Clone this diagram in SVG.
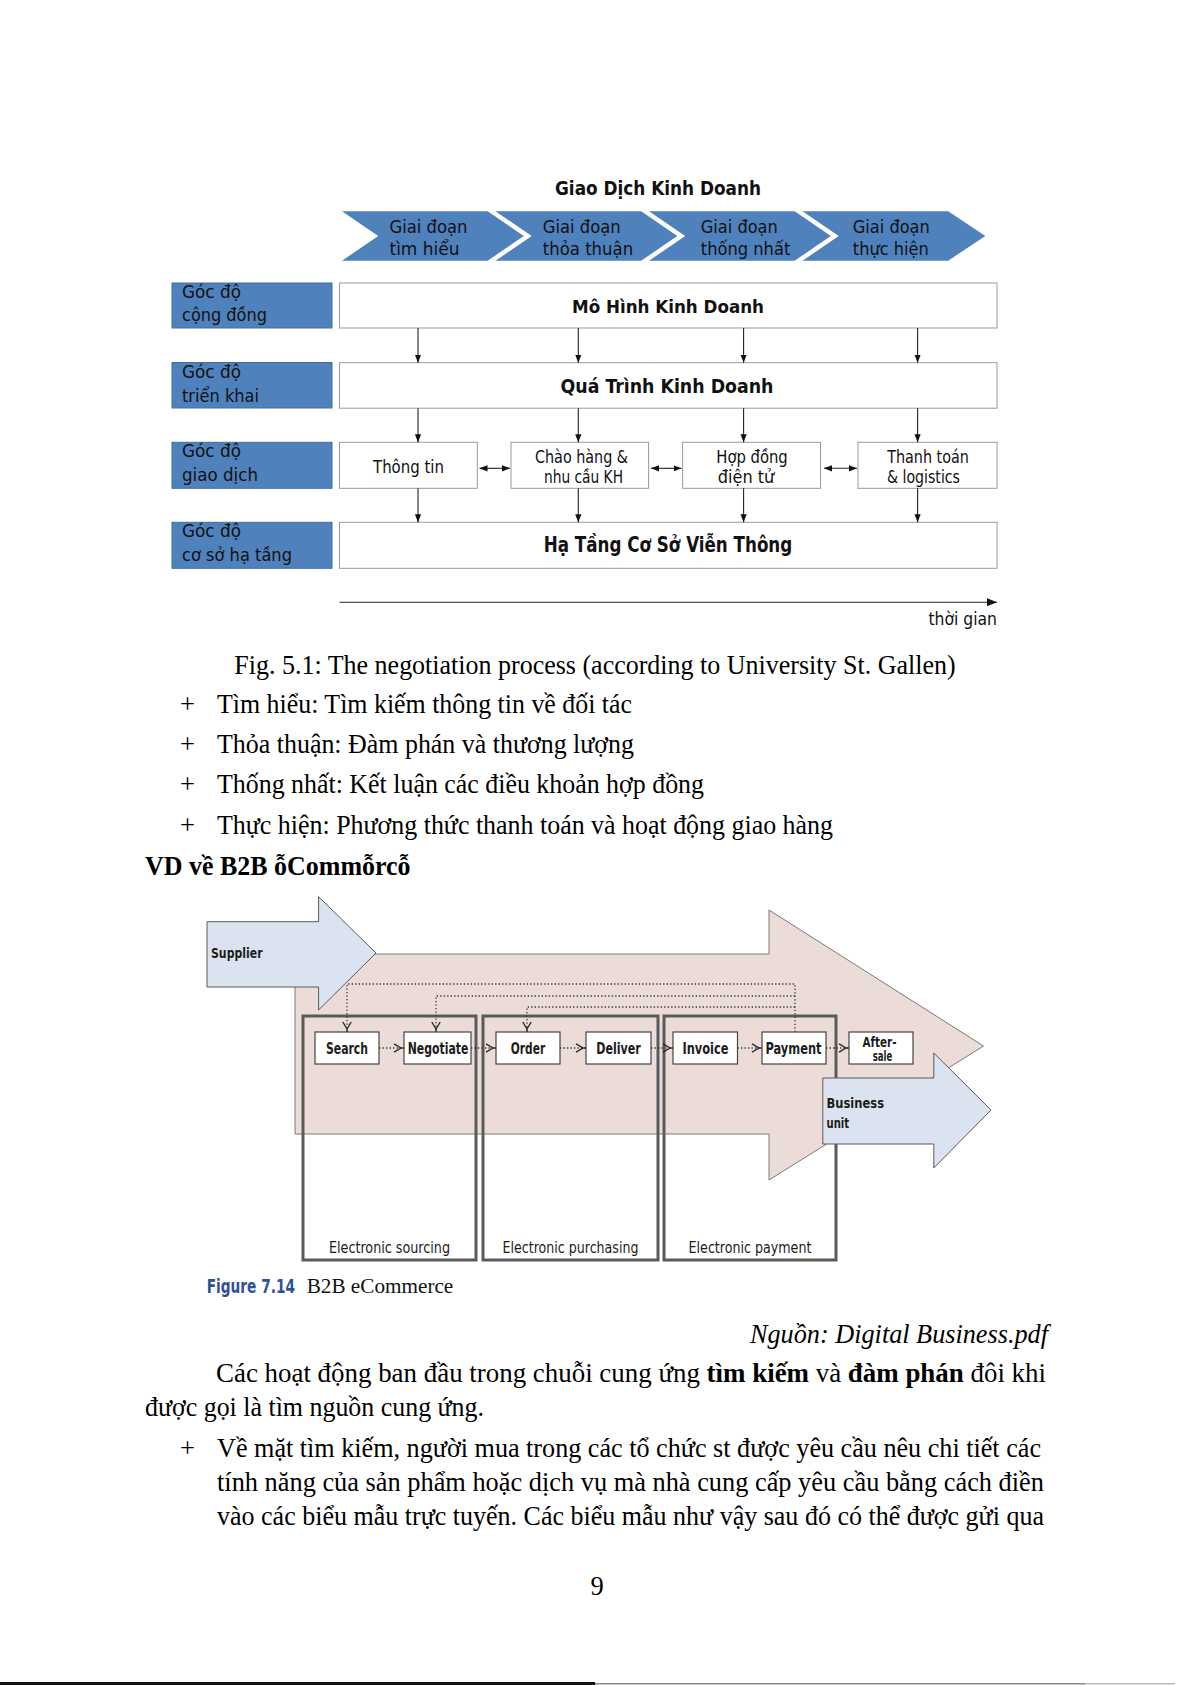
<svg xmlns="http://www.w3.org/2000/svg" width="1191" height="1685" viewBox="0 0 1191 1685">
<style>
.tah{font-family:'DejaVu Sans Condensed','DejaVu Sans','Liberation Sans',sans-serif;font-stretch:condensed;fill:#111}
.b{font-weight:bold}
.ser{font-family:'Liberation Serif','Times New Roman',serif;fill:#000;font-size:26.5px}
.din{font-family:'DejaVu Sans Condensed','DejaVu Sans','Liberation Sans',sans-serif;font-stretch:condensed;font-weight:600;fill:#1c1c1c}
.dinr{font-family:'DejaVu Sans Condensed','DejaVu Sans','Liberation Sans',sans-serif;font-stretch:condensed;fill:#1c1c1c}
.chev{fill:#4f81bd;stroke:#fff;stroke-width:2.5}
.lab{fill:#4f81bd;stroke:#3f6ea6;stroke-width:1}
.mbox{fill:#fff;stroke:#9a9a9a;stroke-width:1}
.arr{stroke:#222;stroke-width:1.1;fill:none}
.sbox{fill:#fff;stroke:#444;stroke-width:1.2}
.grp{fill:none;stroke:#5a5a5a;stroke-width:3}
.dot{stroke:#333;stroke-width:1.3;stroke-dasharray:1.3 2.2;fill:none}
</style>
<defs>
<marker id="ah" viewBox="0 0 8 8" refX="8" refY="4" markerWidth="8" markerHeight="8" orient="auto-start-reverse" markerUnits="userSpaceOnUse"><path d="M0,0.9 L8,4 L0,7.1 z" fill="#111"/></marker>
<marker id="ah2" viewBox="0 0 10 10" refX="10" refY="5" markerWidth="10" markerHeight="10" orient="auto" markerUnits="userSpaceOnUse"><path d="M0,1 L10,5 L0,9 z" fill="#111"/></marker>
<marker id="vo" viewBox="0 0 11 10" refX="11" refY="5" markerWidth="11" markerHeight="10" orient="auto" markerUnits="userSpaceOnUse"><path d="M1,0.8 L8,5 L1,9.2 M8,5 L11,5" fill="none" stroke="#2a2a2a" stroke-width="1.4"/></marker>
</defs>

<!-- ============ Figure 5.1 ============ -->
<text id="title" class="tah b" x="658" y="195" font-size="19.5" text-anchor="middle" textLength="206" lengthAdjust="spacingAndGlyphs">Giao Dịch Kinh Doanh</text>

<g id="chev1"><polygon class="chev" points="338,210 488,210 526,236 488,262 338,262 376,236"/>
<text class="tah" font-size="18.5" x="389.5" y="233" textLength="78" lengthAdjust="spacingAndGlyphs">Giai đoạn</text>
<text class="tah" font-size="18.5" x="389.5" y="255" textLength="70" lengthAdjust="spacingAndGlyphs">tìm hiểu</text></g>
<g id="chev2"><polygon class="chev" points="491.5,210 641.5,210 679.5,236 641.5,262 491.5,262 529.5,236"/>
<text class="tah" font-size="18.5" x="542.7" y="233" textLength="78" lengthAdjust="spacingAndGlyphs">Giai đoạn</text>
<text class="tah" font-size="18.5" x="542.7" y="255" textLength="90.5" lengthAdjust="spacingAndGlyphs">thỏa thuận</text></g>
<g id="chev3"><polygon class="chev" points="645,210 795,210 833,236 795,262 645,262 683,236"/>
<text class="tah" font-size="18.5" x="700.8" y="233" textLength="77" lengthAdjust="spacingAndGlyphs">Giai đoạn</text>
<text class="tah" font-size="18.5" x="700.8" y="255" textLength="89.5" lengthAdjust="spacingAndGlyphs">thống nhất</text></g>
<g id="chev4"><polygon class="chev" points="798.5,210 948.5,210 987.5,236 948.5,262 798.5,262 836.5,236"/>
<text class="tah" font-size="18.5" x="852.8" y="233" textLength="77" lengthAdjust="spacingAndGlyphs">Giai đoạn</text>
<text class="tah" font-size="18.5" x="852.8" y="255" textLength="76" lengthAdjust="spacingAndGlyphs">thực hiện</text></g>

<g id="lab1"><rect class="lab" x="172" y="283" width="160" height="45"/>
<text class="tah" font-size="18" x="182" y="298" textLength="59" lengthAdjust="spacingAndGlyphs">Góc độ</text>
<text class="tah" font-size="18" x="182" y="321" textLength="85" lengthAdjust="spacingAndGlyphs">cộng đồng</text></g>
<g id="lab2"><rect class="lab" x="172" y="362.5" width="160" height="45.5"/>
<text class="tah" font-size="18" x="182" y="378" textLength="59" lengthAdjust="spacingAndGlyphs">Góc độ</text>
<text class="tah" font-size="18" x="182" y="401.5" textLength="77" lengthAdjust="spacingAndGlyphs">triển khai</text></g>
<g id="lab3"><rect class="lab" x="172" y="442.3" width="160" height="46"/>
<text class="tah" font-size="18" x="182" y="457" textLength="59" lengthAdjust="spacingAndGlyphs">Góc độ</text>
<text class="tah" font-size="18" x="182" y="480.5" textLength="76" lengthAdjust="spacingAndGlyphs">giao dịch</text></g>
<g id="lab4"><rect class="lab" x="172" y="522.3" width="160" height="46"/>
<text class="tah" font-size="18" x="182" y="537" textLength="59" lengthAdjust="spacingAndGlyphs">Góc độ</text>
<text class="tah" font-size="18" x="182" y="560.5" textLength="110" lengthAdjust="spacingAndGlyphs">cơ sở hạ tầng</text></g>

<g id="mohinh"><rect class="mbox" x="339.5" y="283" width="657.5" height="45"/>
<text class="tah b" font-size="18" x="668" y="313" text-anchor="middle" textLength="192" lengthAdjust="spacingAndGlyphs">Mô Hình Kinh Doanh</text></g>
<g id="quatrinh"><rect class="mbox" x="339.5" y="362.7" width="657.5" height="45.5"/>
<text class="tah b" font-size="20" x="667" y="393" text-anchor="middle" textLength="213" lengthAdjust="spacingAndGlyphs">Quá Trình Kinh Doanh</text></g>
<g id="thongtin"><rect class="mbox" x="339.5" y="442.3" width="137.8" height="46"/>
<text class="tah" font-size="17" x="408.5" y="472.7" text-anchor="middle" textLength="71" lengthAdjust="spacingAndGlyphs">Thông tin</text></g>
<g id="chaohang"><rect class="mbox" x="511" y="442.3" width="137.6" height="46"/>
<text class="tah" font-size="17" x="581.5" y="463" text-anchor="middle" textLength="93" lengthAdjust="spacingAndGlyphs">Chào hàng &amp;</text>
<text class="tah" font-size="17" x="583.5" y="482.7" text-anchor="middle" textLength="79" lengthAdjust="spacingAndGlyphs">nhu cầu KH</text></g>
<g id="hopdong"><rect class="mbox" x="682.6" y="442.3" width="137.9" height="46"/>
<text class="tah" font-size="17" x="752" y="463" text-anchor="middle" textLength="71.5" lengthAdjust="spacingAndGlyphs">Hợp đồng</text>
<text class="tah" font-size="17" x="746" y="482.7" text-anchor="middle" textLength="56.5" lengthAdjust="spacingAndGlyphs">điện tử</text></g>
<g id="thanhtoan"><rect class="mbox" x="858" y="442.3" width="139" height="46"/>
<text class="tah" font-size="17" x="928" y="463" text-anchor="middle" textLength="81.7" lengthAdjust="spacingAndGlyphs">Thanh toán</text>
<text class="tah" font-size="17" x="923.5" y="482.7" text-anchor="middle" textLength="73" lengthAdjust="spacingAndGlyphs">&amp; logistics</text></g>
<g id="hatang"><rect class="mbox" x="339.5" y="522.3" width="657.5" height="46"/>
<text class="tah b" font-size="21" x="668" y="552" text-anchor="middle" textLength="248.5" lengthAdjust="spacingAndGlyphs">Hạ Tầng Cơ Sở Viễn Thông</text></g>

<g id="connectors1">
<line class="arr" x1="418" y1="328" x2="418" y2="362.7" marker-end="url(#ah)"/>
<line class="arr" x1="578.3" y1="328" x2="578.3" y2="362.7" marker-end="url(#ah)"/>
<line class="arr" x1="743.6" y1="328" x2="743.6" y2="362.7" marker-end="url(#ah)"/>
<line class="arr" x1="917.6" y1="328" x2="917.6" y2="362.7" marker-end="url(#ah)"/>
<line class="arr" x1="418" y1="408.2" x2="418" y2="442.3" marker-end="url(#ah)"/>
<line class="arr" x1="578.3" y1="408.2" x2="578.3" y2="442.3" marker-end="url(#ah)"/>
<line class="arr" x1="743.6" y1="408.2" x2="743.6" y2="442.3" marker-end="url(#ah)"/>
<line class="arr" x1="917.6" y1="408.2" x2="917.6" y2="442.3" marker-end="url(#ah)"/>
<line class="arr" x1="418" y1="488.3" x2="418" y2="522.3" marker-end="url(#ah)"/>
<line class="arr" x1="578.3" y1="488.3" x2="578.3" y2="522.3" marker-end="url(#ah)"/>
<line class="arr" x1="743.6" y1="488.3" x2="743.6" y2="522.3" marker-end="url(#ah)"/>
<line class="arr" x1="917.6" y1="488.3" x2="917.6" y2="522.3" marker-end="url(#ah)"/>
<line class="arr" x1="479.5" y1="468.3" x2="510" y2="468.3" marker-start="url(#ah)" marker-end="url(#ah)"/>
<line class="arr" x1="651" y1="468.3" x2="681.5" y2="468.3" marker-start="url(#ah)" marker-end="url(#ah)"/>
<line class="arr" x1="824" y1="468.3" x2="857" y2="468.3" marker-start="url(#ah)" marker-end="url(#ah)"/>
<line class="arr" x1="339.5" y1="602.3" x2="997" y2="602.3" stroke-width="1.5" marker-end="url(#ah2)"/>
</g>
<text id="thoigian" class="tah" font-size="18" x="997" y="625" text-anchor="end" textLength="68.6" lengthAdjust="spacingAndGlyphs">thời gian</text>

<!-- ============ Body text 1 ============ -->
<text class="ser" x="234.3" y="674" textLength="721.3" lengthAdjust="spacingAndGlyphs">Fig. 5.1: The negotiation process (according to University St. Gallen)</text>
<text class="ser" x="180" y="713">+</text>
<text class="ser" x="217" y="713" textLength="415" lengthAdjust="spacingAndGlyphs">Tìm hiểu: Tìm kiếm thông tin về đối tác</text>
<text class="ser" x="180" y="752.5">+</text>
<text class="ser" x="217" y="752.5" textLength="417" lengthAdjust="spacingAndGlyphs">Thỏa thuận: Đàm phán và thương lượng</text>
<text class="ser" x="180" y="793">+</text>
<text class="ser" x="217" y="793" textLength="487" lengthAdjust="spacingAndGlyphs">Thống nhất: Kết luận các điều khoản hợp đồng</text>
<text class="ser" x="180" y="834">+</text>
<text class="ser" x="217" y="834" textLength="616" lengthAdjust="spacingAndGlyphs">Thực hiện: Phương thức thanh toán và hoạt động giao hàng</text>
<text class="ser" x="145" y="875" font-weight="bold" textLength="265.6" lengthAdjust="spacingAndGlyphs">VD về B2B ỗCommỗrcỗ</text>

<!-- ============ Figure 7.14 B2B ============ -->
<g id="pink-arrow"><polygon points="295,954 769,954 769,910 983.5,1046 769,1180 769,1134 295,1134" fill="#ebdcd8" stroke="#7a7a7a" stroke-width="1"/></g>
<g id="supplier"><polygon points="207,921.7 318.6,921.7 318.6,896.7 376,953 318.6,1010 318.6,987 207,987" fill="#dce3f0" stroke="#5a5a5a" stroke-width="1"/>
<text class="din" font-size="14.5" x="211" y="958.3" textLength="51.6" lengthAdjust="spacingAndGlyphs">Supplier</text></g>

<g id="grp1"><rect class="grp" x="303" y="1016" width="173" height="244"/>
<text class="dinr" font-size="15" x="389.5" y="1253" text-anchor="middle" textLength="121" lengthAdjust="spacingAndGlyphs">Electronic sourcing</text></g>
<g id="grp2"><rect class="grp" x="483" y="1016" width="175" height="244"/>
<text class="dinr" font-size="15" x="570.5" y="1253" text-anchor="middle" textLength="136" lengthAdjust="spacingAndGlyphs">Electronic purchasing</text></g>
<g id="grp3"><rect class="grp" x="664" y="1016" width="172" height="244"/>
<text class="dinr" font-size="15" x="750" y="1253" text-anchor="middle" textLength="122.8" lengthAdjust="spacingAndGlyphs">Electronic payment</text></g>

<g id="business"><polygon points="822.8,1078 933.8,1078 933.8,1053 991,1110 933.8,1168 933.8,1144 822.8,1144" fill="#dce3f0" stroke="#5a5a5a" stroke-width="1"/>
<text class="din" font-size="14.5" x="826.5" y="1108" textLength="57.5" lengthAdjust="spacingAndGlyphs">Business</text>
<text class="din" font-size="14.5" x="826.5" y="1127.5" textLength="22.6" lengthAdjust="spacingAndGlyphs">unit</text></g>

<g id="connectors2">
<path class="dot" d="M795,1032 V984 H347 V1032" marker-end="url(#vo)"/>
<path class="dot" d="M795,996 H436 V1032" marker-end="url(#vo)"/>
<path class="dot" d="M795,1007 H527 V1032" marker-end="url(#vo)"/>
<line class="dot" x1="379" y1="1048" x2="404" y2="1048" marker-end="url(#vo)"/>
<line class="dot" x1="471" y1="1048" x2="496" y2="1048" marker-end="url(#vo)"/>
<line class="dot" x1="560" y1="1048" x2="586" y2="1048" marker-end="url(#vo)"/>
<line class="dot" x1="651" y1="1048" x2="673" y2="1048" marker-end="url(#vo)"/>
<line class="dot" x1="737.5" y1="1048" x2="762" y2="1048" marker-end="url(#vo)"/>
<line class="dot" x1="826" y1="1048" x2="849" y2="1048" marker-end="url(#vo)"/>
</g>

<g id="search"><rect class="sbox" x="315" y="1032" width="64" height="32"/>
<text class="din" font-size="16" x="347" y="1054" text-anchor="middle" textLength="42" lengthAdjust="spacingAndGlyphs">Search</text></g>
<g id="negotiate"><rect class="sbox" x="404" y="1032" width="67" height="32"/>
<text class="din" font-size="16" x="438" y="1054" text-anchor="middle" textLength="60.7" lengthAdjust="spacingAndGlyphs">Negotiate</text></g>
<g id="order"><rect class="sbox" x="496" y="1032" width="64" height="32"/>
<text class="din" font-size="16" x="528" y="1054" text-anchor="middle" textLength="34.3" lengthAdjust="spacingAndGlyphs">Order</text></g>
<g id="deliver"><rect class="sbox" x="586" y="1032" width="65" height="32"/>
<text class="din" font-size="16" x="618.5" y="1054" text-anchor="middle" textLength="44.5" lengthAdjust="spacingAndGlyphs">Deliver</text></g>
<g id="invoice"><rect class="sbox" x="673" y="1032" width="64.5" height="32"/>
<text class="din" font-size="16" x="705.5" y="1054" text-anchor="middle" textLength="46" lengthAdjust="spacingAndGlyphs">Invoice</text></g>
<g id="payment"><rect class="sbox" x="762" y="1032" width="64" height="32"/>
<text class="din" font-size="16" x="793.5" y="1054" text-anchor="middle" textLength="56" lengthAdjust="spacingAndGlyphs">Payment</text></g>
<g id="aftersale"><rect class="sbox" x="849" y="1032" width="64" height="32"/>
<text class="din" font-size="14.5" x="879.5" y="1047" text-anchor="middle" textLength="34" lengthAdjust="spacingAndGlyphs">After-</text>
<text class="din" font-size="14.5" x="882.5" y="1061" text-anchor="middle" textLength="19.6" lengthAdjust="spacingAndGlyphs">sale</text></g>

<text x="206.7" y="1293.3" font-family="'DejaVu Sans Condensed','DejaVu Sans',sans-serif" font-stretch="condensed" font-weight="bold" font-size="19" fill="#2f4f96" textLength="88.3" lengthAdjust="spacingAndGlyphs">Figure 7.14</text>
<text x="306.7" y="1293.3" font-family="'Liberation Serif',serif" font-size="21" fill="#111" textLength="146.6" lengthAdjust="spacingAndGlyphs">B2B eCommerce</text>

<!-- ============ Body text 2 ============ -->
<text class="ser" x="1048" y="1343" font-style="italic" text-anchor="end" textLength="298" lengthAdjust="spacingAndGlyphs">Nguồn: Digital Business.pdf</text>
<text class="ser" x="216" y="1382" textLength="830" lengthAdjust="spacingAndGlyphs">Các hoạt động ban đầu trong chuỗi cung ứng <tspan font-weight="bold">tìm kiếm</tspan> và <tspan font-weight="bold">đàm phán</tspan> đôi khi</text>
<text class="ser" x="145" y="1416" textLength="339" lengthAdjust="spacingAndGlyphs">được gọi là tìm nguồn cung ứng.</text>
<text class="ser" x="180" y="1457">+</text>
<text class="ser" x="217" y="1457" textLength="824" lengthAdjust="spacingAndGlyphs">Về mặt tìm kiếm, người mua trong các tổ chức st được yêu cầu nêu chi tiết các</text>
<text class="ser" x="217" y="1491" textLength="827" lengthAdjust="spacingAndGlyphs">tính năng của sản phẩm hoặc dịch vụ mà nhà cung cấp yêu cầu bằng cách điền</text>
<text class="ser" x="217" y="1525" textLength="827" lengthAdjust="spacingAndGlyphs">vào các biểu mẫu trực tuyến. Các biểu mẫu như vậy sau đó có thể được gửi qua</text>
<text class="ser" x="597" y="1595" text-anchor="middle">9</text>

<rect x="0" y="1682" width="595" height="3" fill="#111"/>
<rect x="595" y="1683" width="490" height="1.5" fill="#888"/>
<rect x="1085" y="1683" width="90" height="1.5" fill="#bbb"/>
</svg>
